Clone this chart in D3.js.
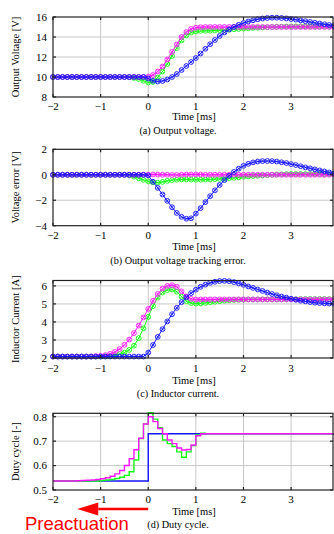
<!DOCTYPE html>
<html>
<head>
<meta charset="utf-8">
<script src="https://cdn.jsdelivr.net/npm/d3@7"></script>
<style>
  body { margin: 0; background: #fff; }
  svg { display: block; }
</style>
</head>
<body>
<svg id="chart" width="334" height="534"></svg>
<script>
// sample instants [ms]
const time = [-2.0,-1.9,-1.8,-1.7,-1.6,-1.5,-1.4,-1.3,-1.2,-1.1,-1.0,-0.9,-0.8,-0.7,-0.6,-0.5,-0.4,-0.3,-0.2,-0.1,
  0.0,0.1,0.2,0.3,0.4,0.5,0.6,0.7,0.8,0.9,1.0,1.1,1.2,1.3,1.4,1.5,1.6,1.7,1.8,1.9,
  2.0,2.1,2.2,2.3,2.4,2.5,2.6,2.7,2.8,2.9,3.0,3.1,3.2,3.3,3.4,3.5,3.6,3.7,3.8,3.9];

// (a) output voltage
const voltBlue = [10,10,10,10,10,10,10,10,10,10,10,10,10,10,10,10,10,10,10,10,
  9.85,9.62,9.55,9.6,9.75,10.0,10.3,10.7,11.1,11.5,11.9,12.35,12.82,13.28,13.7,14.1,14.45,14.75,15.0,15.22,
  15.4,15.55,15.67,15.77,15.85,15.9,15.93,15.93,15.9,15.86,15.8,15.74,15.66,15.58,15.5,15.42,15.35,15.27,15.2,15.13];
const voltGreen = [10,10,10,10,10,10,10,10,10,10,10,10,10,10,10,10,9.97,9.9,9.8,9.62,
  9.45,9.5,9.95,10.55,11.3,12.1,12.9,13.65,14.15,14.45,14.55,14.6,14.62,14.63,14.65,14.67,14.7,14.73,14.77,14.8,
  14.84,14.87,14.9,14.92,14.95,14.97,15.0,15.02,15.03,15.05,15.05,15.06,15.06,15.06,15.06,15.05,15.05,15.04,15.04,15.04];
const voltMagenta = [10,10,10,10,10,10,10,10,10,10,10,10,10,10,10,10,10,10,10,10,
  10.03,10.2,10.55,11.05,11.75,12.5,13.25,14.0,14.5,14.8,14.93,14.98,15,15,15,15,15,15,15,15,
  15,15,15,15,15,15,15,15,15,15,15,15,15,15,15,15,15,15,15,15];

// (b) tracking error
const errBlue = [0,0,0,0,0,0,0,0,0,0,0,0,0,0,0,0,0,0,0,0,
  -0.05,-0.55,-1.03,-1.55,-2.05,-2.55,-3.0,-3.3,-3.45,-3.42,-3.05,-2.62,-2.15,-1.68,-1.22,-0.8,-0.42,-0.08,0.22,0.48,
  0.7,0.86,0.97,1.04,1.07,1.08,1.07,1.04,0.98,0.92,0.84,0.76,0.67,0.58,0.5,0.42,0.34,0.26,0.18,0.1];
const errGreen = [0,0,0,0,0,0,0,0,0,0,0,0,0,0,0,0,-0.05,-0.15,-0.28,-0.4,
  -0.52,-0.6,-0.62,-0.56,-0.48,-0.42,-0.39,-0.37,-0.37,-0.38,-0.39,-0.39,-0.38,-0.37,-0.35,-0.33,-0.3,-0.27,-0.24,-0.2,
  -0.16,-0.13,-0.1,-0.08,-0.05,-0.03,0,0.02,0.03,0.05,0.06,0.06,0.06,0.06,0.06,0.06,0.06,0.05,0.05,0.04];
const errMagenta = [0,0,0,0,0,0,0,0,0,0,0,0,0,0,0,0,0,0,0,0,
  0,0.02,0.02,0,0,-0.02,-0.02,0,0.02,0.02,0.02,0.02,0,0,0,0,0,0,0,0,
  0,0,0,0,0,0,0,0,0,0,0,0,0,0,0,0,0,0,0,0];

// (c) inductor current
const curBlue = [2.08,2.08,2.08,2.08,2.08,2.08,2.08,2.08,2.08,2.08,2.08,2.08,2.08,2.08,2.08,2.08,2.08,2.08,2.08,2.08,
  2.3,2.72,3.17,3.6,4.03,4.43,4.78,5.1,5.37,5.6,5.79,5.95,6.07,6.17,6.23,6.27,6.28,6.26,6.21,6.14,
  6.06,5.97,5.89,5.8,5.72,5.63,5.55,5.48,5.41,5.35,5.29,5.23,5.18,5.14,5.1,5.07,5.05,5.03,5.02,5.01];
const curGreen = [2.08,2.08,2.08,2.08,2.08,2.08,2.08,2.08,2.08,2.08,2.08,2.09,2.11,2.15,2.22,2.3,2.45,2.68,3.1,3.65,
  4.28,4.88,5.35,5.63,5.77,5.8,5.68,5.4,5.15,5.05,5.02,5.03,5.06,5.09,5.12,5.15,5.18,5.2,5.22,5.23,
  5.24,5.25,5.25,5.25,5.25,5.25,5.25,5.25,5.25,5.25,5.26,5.26,5.27,5.27,5.27,5.27,5.27,5.27,5.27,5.27];
const curMagenta = [2.08,2.08,2.08,2.08,2.08,2.08,2.08,2.08,2.08,2.1,2.12,2.16,2.23,2.34,2.5,2.73,3.02,3.38,3.8,4.25,
  4.72,5.17,5.55,5.85,6.0,6.04,5.95,5.7,5.42,5.28,5.24,5.25,5.25,5.25,5.25,5.25,5.25,5.25,5.25,5.25,
  5.25,5.25,5.25,5.25,5.25,5.25,5.25,5.25,5.25,5.25,5.25,5.25,5.25,5.25,5.25,5.25,5.25,5.25,5.25,5.25];

// (d) duty cycle
const dutyBlue = [0.537,0.537,0.537,0.537,0.537,0.537,0.537,0.537,0.537,0.537,0.537,0.537,0.537,0.537,0.537,0.537,0.537,0.537,0.537,0.537,
  0.73,0.73,0.73,0.73,0.73,0.73,0.73,0.73,0.73,0.73,0.73,0.73,0.73,0.73,0.73,0.73,0.73,0.73,0.73,0.73,
  0.73,0.73,0.73,0.73,0.73,0.73,0.73,0.73,0.73,0.73,0.73,0.73,0.73,0.73,0.73,0.73,0.73,0.73,0.73,0.73];
const dutyGreen = [0.537,0.537,0.537,0.537,0.537,0.537,0.537,0.537,0.537,0.537,0.539,0.541,0.543,0.547,0.552,0.56,0.575,0.623,0.711,0.77,
  0.816,0.79,0.755,0.705,0.69,0.678,0.656,0.634,0.656,0.682,0.725,0.733,0.73,0.73,0.73,0.73,0.73,0.73,0.73,0.73,
  0.73,0.73,0.73,0.73,0.73,0.73,0.73,0.73,0.73,0.73,0.73,0.73,0.73,0.73,0.73,0.73,0.73,0.73,0.73,0.73];
const dutyMagenta = [0.537,0.537,0.537,0.537,0.537,0.538,0.539,0.54,0.541,0.543,0.546,0.55,0.556,0.566,0.58,0.6,0.628,0.665,0.712,0.77,
  0.8,0.78,0.752,0.73,0.705,0.69,0.672,0.664,0.666,0.684,0.722,0.73,0.73,0.73,0.73,0.73,0.73,0.73,0.73,0.73,
  0.73,0.73,0.73,0.73,0.73,0.73,0.73,0.73,0.73,0.73,0.73,0.73,0.73,0.73,0.73,0.73,0.73,0.73,0.73,0.73];

// tick values
const xTicks = [-2, -1, 0, 1, 2, 3];
const yTicksA = [8, 10, 12, 14, 16];
const yTicksB = [-4, -2, 0, 2];
const yTicksC = [2, 3, 4, 5, 6];
const yTicksD = [0.5, 0.6, 0.7, 0.8];

const blue = '#1414ff', green = '#14ff14', magenta = '#ff14ff';
const serif = '"Liberation Serif", "DejaVu Serif", serif';

const svg = d3.select('#chart');
const x = d3.scaleLinear().domain([-2, 3.88]).range([53, 333]);
const fmtMinus = v => String(v).replace('-', '\u2212');

const panels = [
  {top: 17, bottom: 97, domain: [8, 16], ticks: yTicksA, fmt: d => d,
   ylabel: 'Output Voltage [V]', caption: '(a) Output voltage.', tickY: 110, timeY: 120, capY: 134,
   series: [[voltGreen, green], [voltMagenta, magenta], [voltBlue, blue]], markers: true},
  {top: 149.3, bottom: 225.7, domain: [-4, 2], ticks: yTicksB, fmt: fmtMinus,
   ylabel: 'Voltage error [V]', caption: '(b) Output voltage tracking error.', tickY: 239, timeY: 250, capY: 264,
   series: [[errGreen, green], [errMagenta, magenta], [errBlue, blue]], markers: true},
  {top: 280.5, bottom: 358, domain: [2, 6.3], ticks: yTicksC, fmt: d => d,
   ylabel: 'Inductor Current [A]', caption: '(c) Inductor current.', tickY: 371.5, timeY: 384, capY: 397,
   series: [[curGreen, green], [curMagenta, magenta], [curBlue, blue]], markers: true},
  {top: 413.3, bottom: 490, domain: [0.5, 0.814], ticks: yTicksD, fmt: d => d.toFixed(1),
   ylabel: 'Duty cycle [-]', caption: '(d) Duty cycle.', tickY: 503, timeY: 514.5, capY: 528,
   series: [[dutyBlue, blue], [dutyGreen, green], [dutyMagenta, magenta]], markers: false}
];

panels.forEach(p => {
  const y = d3.scaleLinear().domain(p.domain).range([p.bottom, p.top]);
  const g = svg.append('g');
  const [x0, x1] = x.range();

  // grid
  g.append('g').selectAll('line.vx')
    .data(xTicks.slice(1))
    .join('line')
    .attr('x1', d => x(d)).attr('x2', d => x(d))
    .attr('y1', p.top).attr('y2', p.bottom)
    .attr('stroke', '#c8c8c8').attr('stroke-width', 1);
  g.append('g').selectAll('line.hy')
    .data(p.ticks.filter(t => y(t) > p.top + 1 && y(t) < p.bottom - 1))
    .join('line')
    .attr('x1', x0).attr('x2', x1)
    .attr('y1', d => y(d)).attr('y2', d => y(d))
    .attr('stroke', '#c8c8c8').attr('stroke-width', 1);

  // data
  p.series.forEach(([vals, col]) => {
    const pts = time.map((t, i) => [t, vals[i]]);
    const line = d3.line()
      .x(d => x(d[0])).y(d => y(d[1]))
      .curve(p.markers ? d3.curveLinear : d3.curveStepAfter);
    g.append('path')
      .attr('d', line(pts))
      .attr('fill', 'none')
      .attr('stroke', col)
      .attr('stroke-width', p.markers ? 1 : 1.4);
    if (p.markers) {
      const m = g.append('g').selectAll('g')
        .data(pts)
        .join('g')
        .attr('transform', d => `translate(${x(d[0])},${y(d[1])})`);
      m.append('circle')
        .attr('r', 2.4)
        .attr('fill', 'none')
        .attr('stroke', col)
        .attr('stroke-width', 0.9);
      m.append('path')
        .attr('d', 'M-1.5,-1.5L1.5,1.5M-1.5,1.5L1.5,-1.5')
        .attr('stroke', col)
        .attr('stroke-width', 0.8);
    }
  });

  // frame
  g.append('rect')
    .attr('x', x0).attr('y', p.top)
    .attr('width', x1 - x0).attr('height', p.bottom - p.top)
    .attr('fill', 'none').attr('stroke', '#222').attr('stroke-width', 1.2);

  // inward ticks
  xTicks.forEach(t => {
    g.append('line').attr('x1', x(t)).attr('x2', x(t)).attr('y1', p.bottom).attr('y2', p.bottom - 3)
      .attr('stroke', '#222').attr('stroke-width', 1.2);
    g.append('line').attr('x1', x(t)).attr('x2', x(t)).attr('y1', p.top).attr('y2', p.top + 3)
      .attr('stroke', '#222').attr('stroke-width', 1.2);
  });
  p.ticks.forEach(t => {
    g.append('line').attr('x1', x0).attr('x2', x0 + 3).attr('y1', y(t)).attr('y2', y(t))
      .attr('stroke', '#222').attr('stroke-width', 1.2);
    g.append('line').attr('x1', x1).attr('x2', x1 - 3).attr('y1', y(t)).attr('y2', y(t))
      .attr('stroke', '#222').attr('stroke-width', 1.2);
  });

  // tick labels
  g.append('g').selectAll('text')
    .data(xTicks)
    .join('text')
    .attr('x', d => x(d)).attr('y', p.tickY)
    .attr('text-anchor', 'middle')
    .style('font', `11px ${serif}`)
    .text(fmtMinus);
  g.append('g').selectAll('text')
    .data(p.ticks)
    .join('text')
    .attr('x', 47).attr('y', d => y(d) + 3.8)
    .attr('text-anchor', 'end')
    .style('font', `11px ${serif}`)
    .text(p.fmt);

  // axis titles and caption
  g.append('text')
    .attr('x', 194).attr('y', p.timeY)
    .attr('text-anchor', 'middle')
    .style('font', `10.5px ${serif}`)
    .text('Time [ms]');
  g.append('text')
    .attr('transform', `translate(19,${(p.top + p.bottom) / 2}) rotate(-90)`)
    .attr('text-anchor', 'middle')
    .style('font', `10.5px ${serif}`)
    .text(p.ylabel);
  g.append('text')
    .attr('x', 178).attr('y', p.capY)
    .attr('text-anchor', 'middle')
    .style('font', `10.2px ${serif}`)
    .text(p.caption);
});

// preactuation arrow
const ay = 509;
svg.append('line')
  .attr('x1', x(0)).attr('x2', x(-1.05))
  .attr('y1', ay).attr('y2', ay)
  .attr('stroke', '#ff0000').attr('stroke-width', 2.4);
svg.append('path')
  .attr('d', `M${x(-1.49)},${ay}L${x(-1.05)},${ay - 6.5}L${x(-1.05)},${ay + 6.5}Z`)
  .attr('fill', '#ff0000');
svg.append('text')
  .attr('x', 25).attr('y', 530)
  .style('font', '18.5px "Liberation Sans", Arial, sans-serif')
  .attr('fill', '#ff0000')
  .text('Preactuation');
</script>
</body>
</html>
